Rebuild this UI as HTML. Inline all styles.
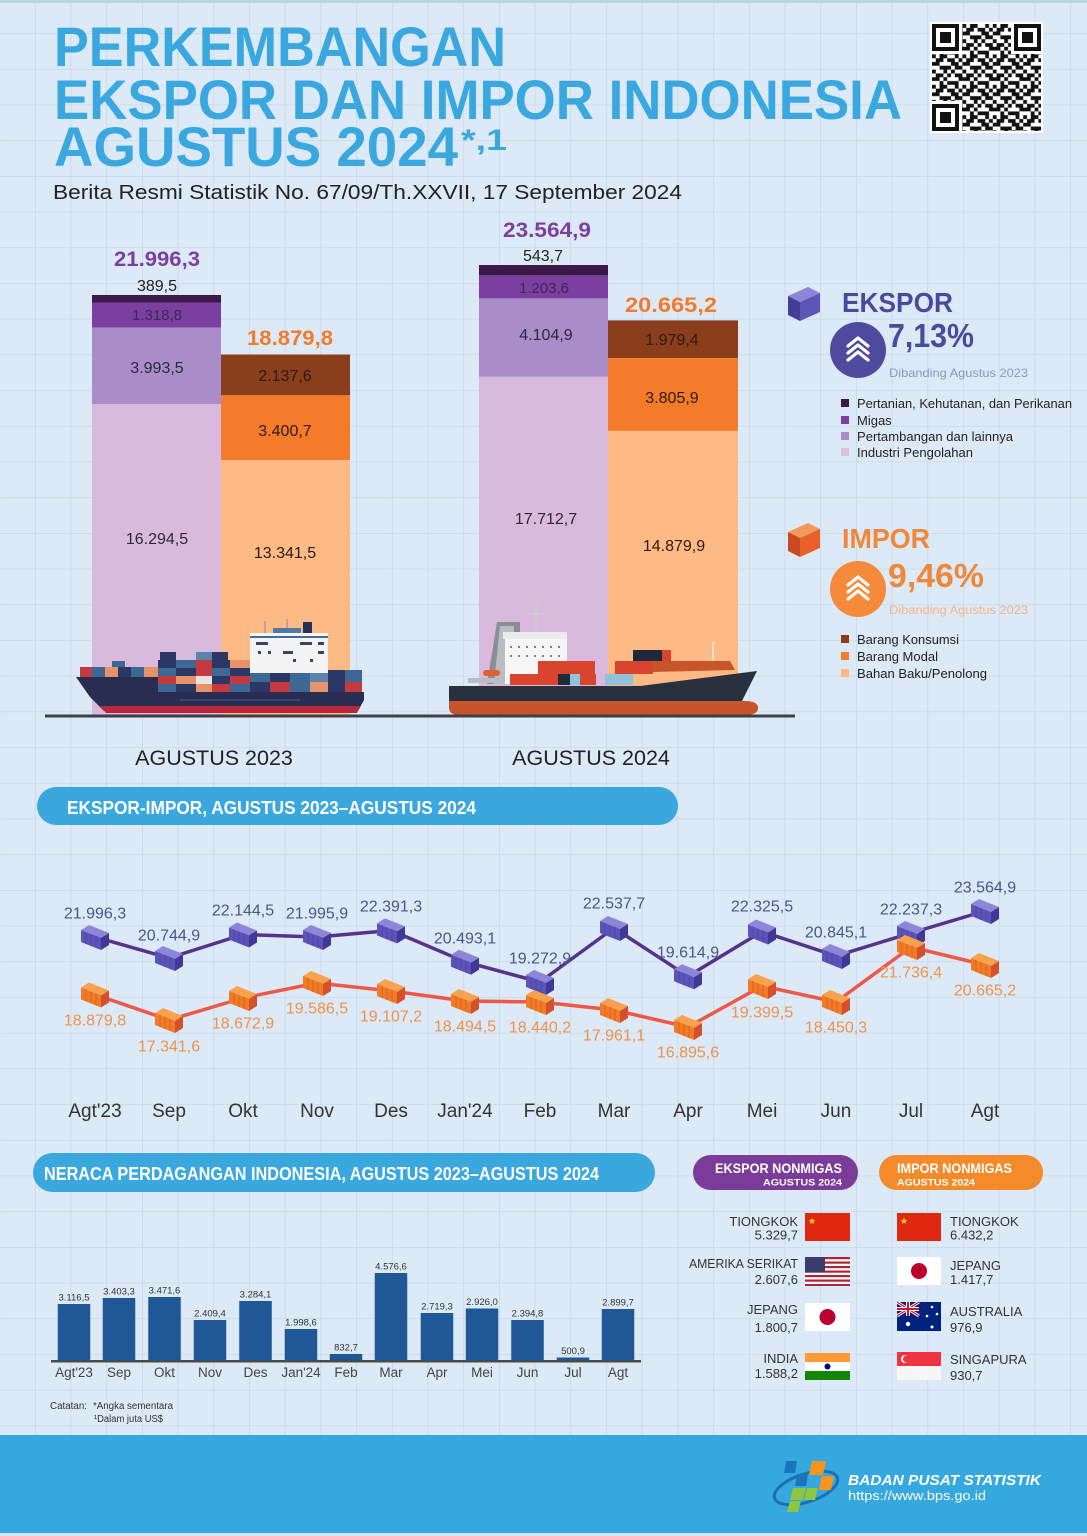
<!DOCTYPE html>
<html><head><meta charset="utf-8"><style>
html,body{margin:0;padding:0;background:#dce9f6;}
svg{display:block;font-family:"Liberation Sans",sans-serif;}
</style></head><body>
<svg width="1087" height="1536" viewBox="0 0 1087 1536" xmlns="http://www.w3.org/2000/svg">
<defs>
<pattern id="grid" width="35.7" height="35.7" patternUnits="userSpaceOnUse" x="-0.8" y="-2.5">
<rect width="35.7" height="35.7" fill="#dce9f6"/>
<path d="M0 0V35.7M0 0H35.7" stroke="#c5d6e5" stroke-width="1.3" fill="none"/>
</pattern>
<pattern id="qr" width="30.4" height="30.4" patternUnits="userSpaceOnUse" x="932" y="24">
<rect width="30.4" height="30.4" fill="#fff"/>
<path fill="#111" d="M0 0h3.8v3.8h-3.8zM7.6 0h3.8v3.8h-3.8zM11.4 0h3.8v3.8h-3.8zM22.8 0h3.8v3.8h-3.8zM3.8 3.8h3.8v3.8h-3.8zM7.6 3.8h3.8v3.8h-3.8zM15.2 3.8h3.8v3.8h-3.8zM19 3.8h3.8v3.8h-3.8zM26.6 3.8h3.8v3.8h-3.8zM0 7.6h3.8v3.8h-3.8zM3.8 7.6h3.8v3.8h-3.8zM19 7.6h3.8v3.8h-3.8zM22.8 7.6h3.8v3.8h-3.8zM7.6 11.4h3.8v3.8h-3.8zM11.4 11.4h3.8v3.8h-3.8zM15.2 11.4h3.8v3.8h-3.8zM22.8 11.4h3.8v3.8h-3.8zM26.6 11.4h3.8v3.8h-3.8zM0 15.2h3.8v3.8h-3.8zM11.4 15.2h3.8v3.8h-3.8zM19 15.2h3.8v3.8h-3.8zM3.8 19h3.8v3.8h-3.8zM7.6 19h3.8v3.8h-3.8zM15.2 19h3.8v3.8h-3.8zM22.8 19h3.8v3.8h-3.8zM26.6 19h3.8v3.8h-3.8zM0 22.8h3.8v3.8h-3.8zM3.8 22.8h3.8v3.8h-3.8zM11.4 22.8h3.8v3.8h-3.8zM26.6 22.8h3.8v3.8h-3.8zM7.6 26.6h3.8v3.8h-3.8zM15.2 26.6h3.8v3.8h-3.8zM19 26.6h3.8v3.8h-3.8zM22.8 26.6h3.8v3.8h-3.8z"/>
</pattern>
<g id="eb">
<polygon points="-14,-7 -6,-12 14,-4 6,1" fill="#8d85d8"/>
<polygon points="-14,-7 6,1 6,13 -14,5" fill="#5a54b8"/>
<polygon points="6,1 14,-4 14,8 6,13" fill="#3f3894"/>
<path d="M-9,-5V7M-4,-3V9M1,-1V11" stroke="#4a44a4" stroke-width="0.8"/>
</g>
<g id="ib">
<polygon points="-14,-7 -6,-12 14,-4 6,1" fill="#f8a24e"/>
<polygon points="-14,-7 6,1 6,13 -14,5" fill="#f07a26"/>
<polygon points="6,1 14,-4 14,8 6,13" fill="#d4502a"/>
<path d="M-9,-5V7M-4,-3V9M1,-1V11" stroke="#d9601f" stroke-width="0.8"/>
</g>
</defs>

<rect width="1087" height="1536" fill="url(#grid)"/>
<rect width="1087" height="3" fill="#bcd3e4"/>

<!-- TITLE -->
<g font-weight="bold" fill="#3aa7df">
<text x="54" y="66" font-size="56" textLength="452" lengthAdjust="spacingAndGlyphs">PERKEMBANGAN</text>
<text x="54" y="119" font-size="56" textLength="848" lengthAdjust="spacingAndGlyphs">EKSPOR DAN IMPOR INDONESIA</text>
<text x="54" y="166" font-size="56" textLength="404" lengthAdjust="spacingAndGlyphs">AGUSTUS 2024</text>
<text x="461" y="150" font-size="30" textLength="46" lengthAdjust="spacingAndGlyphs">*,1</text>
</g>
<text x="53" y="199" font-size="20.5" fill="#222" textLength="629" lengthAdjust="spacingAndGlyphs">Berita Resmi Statistik No. 67/09/Th.XXVII, 17 September 2024</text>

<!-- QR -->
<rect x="930" y="22" width="113" height="111" fill="#fff"/>
<rect x="932" y="24" width="109" height="107" fill="url(#qr)"/>
<g>
<rect x="931" y="23" width="31" height="31" fill="#fff"/>
<rect x="932" y="24" width="27" height="27" fill="#111"/><rect x="936" y="28" width="19" height="19" fill="#fff"/><rect x="940" y="32" width="11" height="11" fill="#111"/>
<rect x="1011" y="23" width="31" height="31" fill="#fff"/>
<rect x="1014" y="24" width="27" height="27" fill="#111"/><rect x="1018" y="28" width="19" height="19" fill="#fff"/><rect x="1022" y="32" width="11" height="11" fill="#111"/>
<rect x="931" y="101" width="31" height="31" fill="#fff"/>
<rect x="932" y="104" width="27" height="27" fill="#111"/><rect x="936" y="108" width="19" height="19" fill="#fff"/><rect x="940" y="112" width="11" height="11" fill="#111"/>
</g>

<!-- STACKED BARS -->
<rect x="92" y="295" width="129" height="7.5" fill="#3b1a4a"/>
<rect x="92" y="302.5" width="129" height="25.2" fill="#7b3fa0"/>
<rect x="92" y="327.7" width="129" height="76.3" fill="#a98cc8"/>
<rect x="92" y="404" width="129" height="311" fill="#d9badc"/>
<rect x="221" y="354.5" width="129" height="40.8" fill="#8b3e1c"/>
<rect x="221" y="395.3" width="129" height="64.9" fill="#f47b2a"/>
<rect x="221" y="460.2" width="129" height="254.8" fill="#fdba84"/>

<rect x="479" y="265" width="129" height="10.4" fill="#3b1a4a"/>
<rect x="479" y="275.4" width="129" height="23" fill="#7b3fa0"/>
<rect x="479" y="298.4" width="129" height="78.4" fill="#a98cc8"/>
<rect x="479" y="376.8" width="129" height="338.2" fill="#d9badc"/>
<rect x="608" y="320.4" width="130" height="37.8" fill="#8b3e1c"/>
<rect x="608" y="358.2" width="130" height="72.7" fill="#f47b2a"/>
<rect x="608" y="430.9" width="130" height="284.1" fill="#fdba84"/>

<g text-anchor="middle">
<text x="157" y="266" font-size="21.5" font-weight="bold" fill="#7b3f9e" textLength="86" lengthAdjust="spacingAndGlyphs">21.996,3</text>
<text x="157" y="291" font-size="16" fill="#222">389,5</text>
<text x="157" y="320" font-size="15" fill="#3a2a55">1.318,8</text>
<text x="157" y="373" font-size="16" fill="#2a2a3a">3.993,5</text>
<text x="157" y="544" font-size="16" fill="#2a2a3a">16.294,5</text>
<text x="290" y="345" font-size="21.5" font-weight="bold" fill="#f07b2c" textLength="86" lengthAdjust="spacingAndGlyphs">18.879,8</text>
<text x="285" y="381" font-size="16" fill="#2a1a10">2.137,6</text>
<text x="285" y="436" font-size="16" fill="#2a1a10">3.400,7</text>
<text x="285" y="558" font-size="16" fill="#2a1a10">13.341,5</text>
<text x="547" y="237" font-size="21.5" font-weight="bold" fill="#7b3f9e" textLength="88" lengthAdjust="spacingAndGlyphs">23.564,9</text>
<text x="543" y="261" font-size="16" fill="#222">543,7</text>
<text x="544" y="293" font-size="15" fill="#3a2a55">1.203,6</text>
<text x="546" y="340" font-size="16" fill="#2a2a3a">4.104,9</text>
<text x="546" y="524" font-size="16" fill="#2a2a3a">17.712,7</text>
<text x="671" y="312" font-size="21.5" font-weight="bold" fill="#f07b2c" textLength="92" lengthAdjust="spacingAndGlyphs">20.665,2</text>
<text x="672" y="345" font-size="16" fill="#2a1a10">1.979,4</text>
<text x="672" y="403" font-size="16" fill="#2a1a10">3.805,9</text>
<text x="674" y="551" font-size="16" fill="#2a1a10">14.879,9</text>
</g>

<!-- LEFT SHIP -->
<g>
<rect x="303" y="622" width="9" height="12" fill="#263158"/>
<line x1="265" y1="621" x2="265" y2="633" stroke="#8a9ab0" stroke-width="1.2"/>
<line x1="287" y1="619" x2="287" y2="633" stroke="#8a9ab0" stroke-width="1.2"/>
<rect x="273" y="628" width="28" height="5" fill="#4f7aa5"/>
<rect x="250" y="633" width="78" height="40" fill="#f4f4f4"/>
<rect x="250" y="636" width="78" height="2" fill="#3f6c98"/>
<g fill="#3a4560">
<rect x="256" y="642" width="12" height="3"/><rect x="300" y="642" width="12" height="3"/><rect x="318" y="642" width="6" height="3"/>
<rect x="258" y="651" width="3" height="3"/><rect x="268" y="651" width="3" height="3"/><rect x="283" y="651" width="10" height="3"/><rect x="318" y="651" width="6" height="3"/>
<rect x="293" y="659" width="3" height="3"/><rect x="310" y="659" width="3" height="3"/>
</g>
<rect x="80" y="667" width="12" height="10" fill="#c43a3f"/><rect x="92" y="667" width="13" height="10" fill="#3d6896"/><rect x="105" y="667" width="13" height="10" fill="#e8926a"/><rect x="118" y="667" width="13" height="10" fill="#2b3866"/><rect x="131" y="667" width="13" height="10" fill="#3d6896"/><rect x="144" y="667" width="14" height="10" fill="#e8926a"/>
<rect x="112" y="661" width="13" height="6" fill="#3d6896"/>
<rect x="160" y="652" width="16" height="8" fill="#2b3866"/><rect x="196" y="652" width="16" height="8" fill="#5b84ad"/><rect x="212" y="652" width="16" height="8" fill="#2b3866"/>
<rect x="158" y="660" width="18" height="8" fill="#2b3866"/><rect x="176" y="660" width="20" height="8" fill="#3d6896"/><rect x="196" y="660" width="16" height="8" fill="#c43a3f"/><rect x="212" y="660" width="18" height="8" fill="#2b3866"/><rect x="230" y="660" width="20" height="8" fill="#e8926a"/>
<rect x="158" y="668" width="18" height="8" fill="#3d6896"/><rect x="176" y="668" width="20" height="8" fill="#2b3866"/><rect x="196" y="668" width="16" height="8" fill="#c43a3f"/><rect x="212" y="668" width="18" height="8" fill="#3d6896"/><rect x="230" y="668" width="20" height="8" fill="#2b3866"/>
<rect x="158" y="676" width="18" height="8" fill="#c43a3f"/><rect x="176" y="676" width="20" height="8" fill="#e8926a"/><rect x="196" y="676" width="16" height="8" fill="#e8e4e0"/><rect x="212" y="676" width="18" height="8" fill="#2b3866"/><rect x="230" y="676" width="20" height="8" fill="#c43a3f"/>
<rect x="158" y="684" width="18" height="8" fill="#3d6896"/><rect x="176" y="684" width="20" height="8" fill="#2b3866"/><rect x="196" y="684" width="16" height="8" fill="#e8926a"/><rect x="212" y="684" width="18" height="8" fill="#c43a3f"/><rect x="230" y="684" width="20" height="8" fill="#3d6896"/>
<rect x="250" y="673" width="20" height="9" fill="#3d6896"/><rect x="270" y="673" width="20" height="9" fill="#2b3866"/><rect x="290" y="673" width="20" height="9" fill="#3d6896"/><rect x="310" y="673" width="18" height="9" fill="#5b84ad"/><rect x="328" y="670" width="17" height="12" fill="#2b3866"/><rect x="345" y="670" width="17" height="12" fill="#3d6896"/>
<rect x="250" y="682" width="20" height="10" fill="#2b3866"/><rect x="270" y="682" width="20" height="10" fill="#c43a3f"/><rect x="290" y="682" width="20" height="10" fill="#3d6896"/><rect x="310" y="682" width="18" height="10" fill="#e8926a"/><rect x="328" y="682" width="17" height="10" fill="#2b3866"/><rect x="345" y="682" width="17" height="10" fill="#c43a3f"/>
<polygon points="76,677 158,677 158,692 364,692 364,700 358,711 104,711 90,697" fill="#272e52"/>
<polygon points="100,706 360,706 357,713 106,713" fill="#b8283a"/>
<line x1="180" y1="700" x2="300" y2="700" stroke="#3d4a78" stroke-width="1.5"/>
</g>

<!-- RIGHT SHIP -->
<g>
<line x1="536" y1="603" x2="536" y2="634" stroke="#c8ccd2" stroke-width="2"/>
<line x1="528" y1="614" x2="545" y2="614" stroke="#c8ccd2" stroke-width="1.5"/>
<line x1="552" y1="612" x2="552" y2="634" stroke="#c8ccd2" stroke-width="1.2"/>
<polygon points="497,622 520,622 520,684 487,684" fill="#8a8f96"/>
<polygon points="500,626 514,626 514,684 494,684" fill="#b9bdc2"/>
<rect x="503" y="632" width="64" height="7" fill="#e9ecef"/>
<rect x="505" y="639" width="62" height="45" fill="#f6f6f6"/>
<g fill="#7a8090"><rect x="510" y="646" width="2" height="2"/><rect x="518" y="646" width="2" height="2"/><rect x="526" y="646" width="2" height="2"/><rect x="534" y="646" width="2" height="2"/><rect x="542" y="646" width="2" height="2"/><rect x="550" y="646" width="2" height="2"/><rect x="558" y="646" width="2" height="2"/><rect x="510" y="655" width="2" height="2"/><rect x="518" y="655" width="2" height="2"/><rect x="526" y="655" width="2" height="2"/><rect x="534" y="655" width="2" height="2"/><rect x="542" y="655" width="2" height="2"/><rect x="550" y="655" width="2" height="2"/><rect x="558" y="655" width="2" height="2"/></g>
<rect x="538" y="661" width="57" height="13" fill="#d9442e"/>
<rect x="510" y="674" width="48" height="11" fill="#d9442e"/>
<rect x="558" y="674" width="12" height="11" fill="#1e2a3a"/>
<rect x="570" y="674" width="10" height="11" fill="#8fc3dc"/>
<rect x="580" y="674" width="16" height="11" fill="#d9442e"/>
<rect x="605" y="674" width="28" height="11" fill="#8fc3dc"/>
<rect x="615" y="661" width="38" height="13" fill="#d9442e"/>
<rect x="633" y="650" width="29" height="11" fill="#1e2a3a"/>
<rect x="662" y="650" width="9" height="11" fill="#d9442e"/>
<polygon points="653,661 730,661 735,670 653,672" fill="#c8542c"/>
<line x1="713" y1="642" x2="713" y2="661" stroke="#e8e8e8" stroke-width="1.5"/>
<rect x="483" y="670" width="17" height="6" rx="3" fill="#e0602e"/>
<rect x="468" y="678" width="35" height="5" fill="#b9bdc2"/>
<polygon points="449,686 640,686 757,671 742,701 449,701" fill="#28323f"/>
<path d="M449,701 H745 Q758,701 758,708 Q758,715 745,715 H460 Q449,715 449,708 Z" fill="#c8542c"/>
</g>

<rect x="45" y="714.5" width="750" height="3" fill="#3c3f48"/>

<text x="214" y="765" font-size="21.5" fill="#222" text-anchor="middle">AGUSTUS 2023</text>
<text x="591" y="765" font-size="21.5" fill="#222" text-anchor="middle">AGUSTUS 2024</text>

<!-- RIGHT PANEL: EKSPOR -->
<polygon points="788,296 808,287 820,293 800,302" fill="#8d86d6"/>
<polygon points="788,296 800,302 800,321 788,315" fill="#433d98"/>
<polygon points="800,302 820,293 820,312 800,321" fill="#5b56b8"/>
<text x="842" y="312" font-size="28" font-weight="bold" fill="#4a4a9c" textLength="111" lengthAdjust="spacingAndGlyphs">EKSPOR</text>
<circle cx="858" cy="350" r="28" fill="#4e4b9e"/>
<g stroke="#fff" stroke-width="3.2" fill="none" stroke-linecap="round" stroke-linejoin="round">
<polyline points="848,346 858,338 868,346"/><polyline points="848,353 858,345 868,353"/><polyline points="848,360 858,352 868,360"/>
</g>
<text x="888" y="347" font-size="33" font-weight="bold" fill="#4a4a9c" textLength="86" lengthAdjust="spacingAndGlyphs">7,13%</text>
<text x="889" y="377" font-size="12" fill="#8f93c4" textLength="139" lengthAdjust="spacingAndGlyphs">Dibanding Agustus 2023</text>
<rect x="841" y="399" width="8" height="8" fill="#3b1a4a"/>
<rect x="841" y="416" width="8" height="8" fill="#7b3fa0"/>
<rect x="841" y="432" width="8" height="8" fill="#a98cc8"/>
<rect x="841" y="448" width="8" height="8" fill="#dcc0e0"/>
<g font-size="13" fill="#222">
<text x="857" y="408" textLength="215" lengthAdjust="spacingAndGlyphs">Pertanian, Kehutanan, dan Perikanan</text>
<text x="857" y="425">Migas</text>
<text x="857" y="441" textLength="156" lengthAdjust="spacingAndGlyphs">Pertambangan dan lainnya</text>
<text x="857" y="457" textLength="116" lengthAdjust="spacingAndGlyphs">Industri Pengolahan</text>
</g>

<!-- RIGHT PANEL: IMPOR -->
<polygon points="788,532 808,523 820,529 800,538" fill="#f39a5a"/>
<polygon points="788,532 800,538 800,557 788,551" fill="#c94a22"/>
<polygon points="800,538 820,529 820,548 800,557" fill="#e8612a"/>
<text x="842" y="548" font-size="28" font-weight="bold" fill="#f0873a" textLength="88" lengthAdjust="spacingAndGlyphs">IMPOR</text>
<circle cx="858" cy="589" r="28" fill="#f58a3a"/>
<g stroke="#fff" stroke-width="3.2" fill="none" stroke-linecap="round" stroke-linejoin="round">
<polyline points="848,585 858,577 868,585"/><polyline points="848,592 858,584 868,592"/><polyline points="848,599 858,591 868,599"/>
</g>
<text x="888" y="587" font-size="33" font-weight="bold" fill="#f0873a" textLength="96" lengthAdjust="spacingAndGlyphs">9,46%</text>
<text x="889" y="614" font-size="12" fill="#f3b585" textLength="139" lengthAdjust="spacingAndGlyphs">Dibanding Agustus 2023</text>
<rect x="841" y="635" width="8" height="8" fill="#8b3e1c"/>
<rect x="841" y="652" width="8" height="8" fill="#f47b2a"/>
<rect x="841" y="669" width="8" height="8" fill="#fdba84"/>
<g font-size="13" fill="#222">
<text x="857" y="644" textLength="102" lengthAdjust="spacingAndGlyphs">Barang Konsumsi</text>
<text x="857" y="661" textLength="81" lengthAdjust="spacingAndGlyphs">Barang Modal</text>
<text x="857" y="678" textLength="130" lengthAdjust="spacingAndGlyphs">Bahan Baku/Penolong</text>
</g>

<!-- SECTION 2 HEADER -->
<rect x="37" y="787" width="641" height="38" rx="19" fill="#3aa8de"/>
<text x="67" y="814" font-size="18.5" font-weight="bold" fill="#fff" textLength="409" lengthAdjust="spacingAndGlyphs">EKSPOR-IMPOR, AGUSTUS 2023–AGUSTUS 2024</text>

<!-- LINE CHART -->
<polyline fill="none" stroke="#56338a" stroke-width="3.5" stroke-linejoin="round" points="95,937 169,958 243,934.5 317,937 391,930.4 465,961.8 540,982 614,928 688,976.3 762,931.5 836,956 911,933 985,911"/>
<g>
<use href="#eb" x="95" y="937"/><use href="#eb" x="169" y="958"/><use href="#eb" x="243" y="934.5"/><use href="#eb" x="317" y="937"/><use href="#eb" x="391" y="930.4"/><use href="#eb" x="465" y="961.8"/><use href="#eb" x="540" y="982"/><use href="#eb" x="614" y="928"/><use href="#eb" x="688" y="976.3"/><use href="#eb" x="762" y="931.5"/><use href="#eb" x="836" y="956"/><use href="#eb" x="911" y="933"/><use href="#eb" x="985" y="911"/>
</g>
<polyline fill="none" stroke="#ef5848" stroke-width="3.5" stroke-linejoin="round" points="95,994.5 169,1020 243,998 317,983 391,991 465,1001 540,1002 614,1010 688,1027 762,986 836,1002 911,947 985,965"/>
<g>
<use href="#ib" x="95" y="994.5"/><use href="#ib" x="169" y="1020"/><use href="#ib" x="243" y="998"/><use href="#ib" x="317" y="983"/><use href="#ib" x="391" y="991"/><use href="#ib" x="465" y="1001"/><use href="#ib" x="540" y="1002"/><use href="#ib" x="614" y="1010"/><use href="#ib" x="688" y="1027"/><use href="#ib" x="762" y="986"/><use href="#ib" x="836" y="1002"/><use href="#ib" x="911" y="947"/><use href="#ib" x="985" y="965"/>
</g>
<g text-anchor="middle" font-size="16" fill="#4a5688">
<text x="95" y="918.5">21.996,3</text><text x="169" y="940.5">20.744,9</text><text x="243" y="915.5">22.144,5</text><text x="317" y="918.5">21.995,9</text><text x="391" y="911.5">22.391,3</text><text x="465" y="943.5">20.493,1</text><text x="540" y="963.5">19.272,9</text><text x="614" y="908.5">22.537,7</text><text x="688" y="957.5">19.614,9</text><text x="762" y="911.5">22.325,5</text><text x="836" y="937.5">20.845,1</text><text x="911" y="914.5">22.237,3</text><text x="985" y="892.5">23.564,9</text>
</g>
<g text-anchor="middle" font-size="16" fill="#f0924a">
<text x="95" y="1025.5">18.879,8</text><text x="169" y="1051.5">17.341,6</text><text x="243" y="1028.5">18.672,9</text><text x="317" y="1013.5">19.586,5</text><text x="391" y="1021.5">19.107,2</text><text x="465" y="1031.5">18.494,5</text><text x="540" y="1032.5">18.440,2</text><text x="614" y="1040.5">17.961,1</text><text x="688" y="1057.5">16.895,6</text><text x="762" y="1017.5">19.399,5</text><text x="836" y="1032.5">18.450,3</text><text x="911" y="977.5">21.736,4</text><text x="985" y="995.5">20.665,2</text>
</g>
<g text-anchor="middle" font-size="19" fill="#333">
<text x="95" y="1117">Agt'23</text><text x="169" y="1117">Sep</text><text x="243" y="1117">Okt</text><text x="317" y="1117">Nov</text><text x="391" y="1117">Des</text><text x="465" y="1117">Jan'24</text><text x="540" y="1117">Feb</text><text x="614" y="1117">Mar</text><text x="688" y="1117">Apr</text><text x="762" y="1117">Mei</text><text x="836" y="1117">Jun</text><text x="911" y="1117">Jul</text><text x="985" y="1117">Agt</text>
</g>

<!-- SECTION 3 HEADER -->
<rect x="33" y="1153" width="622" height="39" rx="19.5" fill="#3aa8de"/>
<text x="44" y="1180" font-size="18" font-weight="bold" fill="#fff" textLength="555" lengthAdjust="spacingAndGlyphs">NERACA PERDAGANGAN INDONESIA, AGUSTUS 2023–AGUSTUS 2024</text>

<!-- BALANCE BARS -->
<g fill="#1f5797">
<rect x="57.75" y="1304" width="32.5" height="57"/>
<rect x="102.75" y="1298" width="32.5" height="63"/>
<rect x="148.25" y="1297" width="32.5" height="64"/>
<rect x="193.75" y="1320" width="32.5" height="41"/>
<rect x="239.25" y="1301" width="32.5" height="60"/>
<rect x="284.75" y="1329" width="32.5" height="32"/>
<rect x="329.75" y="1354" width="32.5" height="7"/>
<rect x="374.75" y="1273" width="32.5" height="88"/>
<rect x="420.75" y="1313" width="32.5" height="48"/>
<rect x="465.75" y="1308.5" width="32.5" height="52.5"/>
<rect x="511.25" y="1320" width="32.5" height="41"/>
<rect x="556.75" y="1357.5" width="32.5" height="3.5"/>
<rect x="601.75" y="1309" width="32.5" height="52"/>
</g>
<rect x="51" y="1360" width="590" height="2.5" fill="#4a4a4a"/>
<g text-anchor="middle" font-size="9.5" fill="#333">
<text x="74" y="1300.5">3.116,5</text><text x="119" y="1294.5">3.403,3</text><text x="164.5" y="1293.5">3.471,6</text><text x="210" y="1316.5">2.409,4</text><text x="255.5" y="1297.5">3.284,1</text><text x="301" y="1325.5">1.998,6</text><text x="346" y="1350.5">832,7</text><text x="391" y="1269.5">4.576,6</text><text x="437" y="1309.5">2.719,3</text><text x="482" y="1305">2.926,0</text><text x="527.5" y="1316.5">2.394,8</text><text x="573" y="1354">500,9</text><text x="618" y="1305.5">2.899,7</text>
</g>
<g text-anchor="middle" font-size="13.5" fill="#444">
<text x="74" y="1377">Agt'23</text><text x="119" y="1377">Sep</text><text x="164.5" y="1377">Okt</text><text x="210" y="1377">Nov</text><text x="255.5" y="1377">Des</text><text x="301" y="1377">Jan'24</text><text x="346" y="1377">Feb</text><text x="391" y="1377">Mar</text><text x="437" y="1377">Apr</text><text x="482" y="1377">Mei</text><text x="527.5" y="1377">Jun</text><text x="573" y="1377">Jul</text><text x="618" y="1377">Agt</text>
</g>
<g font-size="10" fill="#333">
<text x="50" y="1409" textLength="37" lengthAdjust="spacingAndGlyphs">Catatan:</text>
<text x="93" y="1409" textLength="80" lengthAdjust="spacingAndGlyphs">*Angka sementara</text>
<text x="94" y="1422" textLength="69" lengthAdjust="spacingAndGlyphs">¹Dalam juta US$</text>
</g>

<!-- NONMIGAS PILLS -->
<rect x="693" y="1155" width="165" height="35" rx="17.5" fill="#7b3c99"/>
<text x="715" y="1173" font-size="13.5" font-weight="bold" fill="#fff" textLength="127" lengthAdjust="spacingAndGlyphs">EKSPOR NONMIGAS</text>
<text x="763" y="1185.5" font-size="9.5" font-weight="bold" fill="#fff" textLength="79" lengthAdjust="spacingAndGlyphs">AGUSTUS 2024</text>
<rect x="879" y="1155" width="164" height="35" rx="17.5" fill="#f58a2a"/>
<text x="897" y="1173" font-size="13.5" font-weight="bold" fill="#fff" textLength="115" lengthAdjust="spacingAndGlyphs">IMPOR NONMIGAS</text>
<text x="897" y="1185.5" font-size="9.5" font-weight="bold" fill="#fff" textLength="78" lengthAdjust="spacingAndGlyphs">AGUSTUS 2024</text>

<!-- EKSPOR COUNTRIES -->
<g text-anchor="end" font-size="13" fill="#333">
<text x="798" y="1226">TIONGKOK</text><text x="798" y="1239.5">5.329,7</text>
<text x="798" y="1268" textLength="109" lengthAdjust="spacingAndGlyphs">AMERIKA SERIKAT</text><text x="798" y="1284">2.607,6</text>
<text x="798" y="1314">JEPANG</text><text x="798" y="1332">1.800,7</text>
<text x="798" y="1363">INDIA</text><text x="798" y="1378">1.588,2</text>
</g>
<!-- China L -->
<rect x="805" y="1213" width="45" height="28" fill="#de2910"/>
<text x="808" y="1224" font-size="9" fill="#ffde00" font-family="DejaVu Sans">★</text>
<!-- USA -->
<rect x="805" y="1257" width="45" height="29" fill="#fff"/>
<g fill="#b22234"><rect x="805" y="1257" width="45" height="2.2"/><rect x="805" y="1261.5" width="45" height="2.2"/><rect x="805" y="1266" width="45" height="2.2"/><rect x="805" y="1270.5" width="45" height="2.2"/><rect x="805" y="1275" width="45" height="2.2"/><rect x="805" y="1279.5" width="45" height="2.2"/><rect x="805" y="1284" width="45" height="2"/></g>
<rect x="805" y="1257" width="20" height="15.5" fill="#3c3b6e"/>
<!-- Japan L -->
<rect x="805" y="1303" width="45" height="28" fill="#fff"/>
<circle cx="827.5" cy="1317" r="8" fill="#bc002d"/>
<!-- India -->
<rect x="805" y="1353" width="45" height="9" fill="#ff9933"/>
<rect x="805" y="1362" width="45" height="9" fill="#fff"/>
<rect x="805" y="1371" width="45" height="9" fill="#138808"/>
<circle cx="827.5" cy="1366.5" r="3" fill="#000080"/>

<!-- IMPOR COUNTRIES -->
<g font-size="13" fill="#333">
<text x="950" y="1226">TIONGKOK</text><text x="950" y="1239.5">6.432,2</text>
<text x="950" y="1270">JEPANG</text><text x="950" y="1284">1.417,7</text>
<text x="950" y="1316">AUSTRALIA</text><text x="950" y="1332">976,9</text>
<text x="950" y="1364">SINGAPURA</text><text x="950" y="1380">930,7</text>
</g>
<rect x="897" y="1213" width="44" height="28" fill="#de2910"/>
<text x="900" y="1224" font-size="9" fill="#ffde00" font-family="DejaVu Sans">★</text>
<rect x="897" y="1257" width="44" height="28" fill="#fff"/>
<circle cx="919" cy="1271" r="8" fill="#bc002d"/>
<!-- Australia -->
<rect x="897" y="1302" width="44" height="29" fill="#00247d"/>
<rect x="897" y="1302" width="22" height="14" fill="#00247d"/>
<path d="M897,1302 L919,1316 M919,1302 L897,1316" stroke="#fff" stroke-width="3"/>
<path d="M897,1302 L919,1316 M919,1302 L897,1316" stroke="#cf142b" stroke-width="1.2"/>
<rect x="906" y="1302" width="4" height="14" fill="#fff"/><rect x="897" y="1307" width="22" height="4" fill="#fff"/>
<rect x="907" y="1302" width="2" height="14" fill="#cf142b"/><rect x="897" y="1308" width="22" height="2" fill="#cf142b"/>
<g fill="#fff"><circle cx="908" cy="1324" r="2.2"/><circle cx="932" cy="1307" r="1.3"/><circle cx="927" cy="1316" r="1.3"/><circle cx="937" cy="1314" r="1.3"/><circle cx="932" cy="1327" r="1.5"/></g>
<!-- Singapore -->
<rect x="897" y="1352" width="44" height="14" fill="#ef3340"/>
<rect x="897" y="1366" width="44" height="14" fill="#f7f7f7"/>
<circle cx="905" cy="1359" r="4" fill="#fff"/><circle cx="906.5" cy="1359" r="3.5" fill="#ef3340"/>

<!-- FOOTER -->
<rect x="0" y="1435" width="1087" height="98" fill="#35a9df"/>
<rect x="0" y="1533" width="1087" height="3" fill="#d6e7f3"/>
<g>
<ellipse cx="806" cy="1488" rx="33" ry="14" fill="none" stroke="#1f6fb5" stroke-width="3" transform="rotate(-18 806 1488)"/>
<polygon points="786,1461 797,1461 795,1473 784,1473" fill="#1c75bc"/>
<polygon points="797,1474 808,1474 806,1486 795,1486" fill="#1c75bc"/>
<polygon points="812,1461 826,1461 823,1475 809,1475" fill="#f7941d"/>
<polygon points="822,1476 834,1476 831,1490 819,1490" fill="#f7941d"/>
<polygon points="793,1488 806,1488 803,1500 790,1500" fill="#8dc63f"/>
<polygon points="807,1488 818,1488 815,1500 804,1500" fill="#8dc63f"/>
<polygon points="790,1501 801,1501 798,1512 787,1512" fill="#8dc63f"/>
</g>
<text x="848" y="1485" font-size="15" font-weight="bold" font-style="italic" fill="#fff" textLength="193" lengthAdjust="spacingAndGlyphs">BADAN PUSAT STATISTIK</text>
<text x="848" y="1500" font-size="13" fill="#fff" textLength="138" lengthAdjust="spacingAndGlyphs">https://www.bps.go.id</text>
</svg>
</body></html>
